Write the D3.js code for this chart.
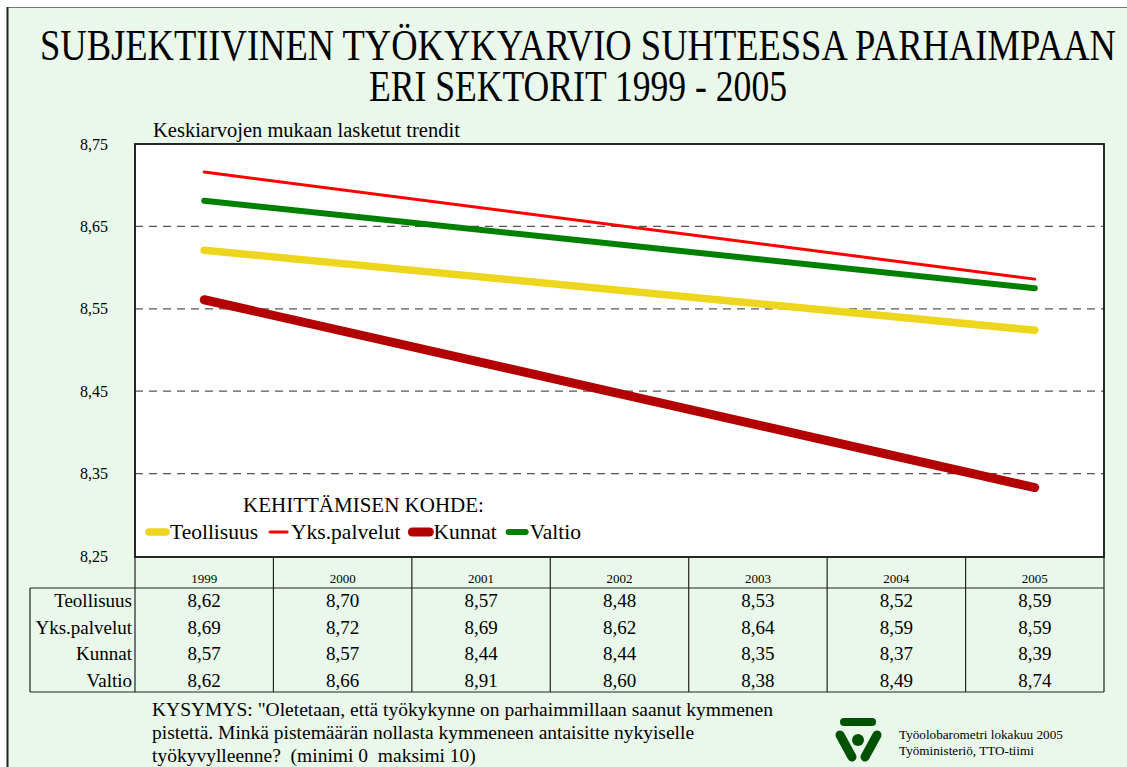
<!DOCTYPE html>
<html>
<head>
  <meta charset="utf-8">
  <script src="https://cdn.jsdelivr.net/npm/d3@7"></script>
  <style>
    body { margin: 0; background: white; }
    svg { display: block; font-family: "Liberation Serif", "Times New Roman", serif; }
  </style>
</head>
<body>
  <script>
    // data
    const years = ['1999', '2000', '2001', '2002', '2003', '2004', '2005']
    const sectors = ['Teollisuus', 'Yks.palvelut', 'Kunnat', 'Valtio']
    const teollisuus = [8.62, 8.70, 8.57, 8.48, 8.53, 8.52, 8.59]
    const yksPalvelut = [8.69, 8.72, 8.69, 8.62, 8.64, 8.59, 8.59]
    const kunnat = [8.57, 8.57, 8.44, 8.44, 8.35, 8.37, 8.39]
    const valtio = [8.62, 8.66, 8.91, 8.60, 8.38, 8.49, 8.74]
    // trend line end points (1999 and 2005)
    const trendStart = [8.621, 8.716, 8.561, 8.681]
    const trendEnd = [8.524, 8.586, 8.333, 8.575]
    const yTicks = [8.25, 8.35, 8.45, 8.55, 8.65, 8.75]

    const tableRows = [teollisuus, yksPalvelut, kunnat, valtio]
    const colors = ['#eed51e', '#ff0000', '#b30000', '#008000']
    const widths = [7.5, 3, 9, 6]

    const W = 1127, H = 767
    const svg = d3.select('body').append('svg')
      .attr('width', W).attr('height', H)

    // page background and edges
    svg.append('rect').attr('x', 7).attr('y', 7).attr('width', W - 7).attr('height', H - 7)
      .attr('fill', '#e9f8ea')
    svg.append('line').attr('x1', 7).attr('x2', W).attr('y1', 7.5).attr('y2', 7.5)
      .attr('stroke', '#777').attr('stroke-width', 1)
    svg.append('line').attr('x1', 7.5).attr('x2', 7.5).attr('y1', 7).attr('y2', H)
      .attr('stroke', '#222').attr('stroke-width', 2)

    // title
    const title = [['SUBJEKTIIVINEN TYÖKYKYARVIO SUHTEESSA PARHAIMPAAN', 60, 1076],
                   ['ERI SEKTORIT 1999 - 2005', 101, 418]]
    title.forEach(t => {
      svg.append('text').attr('x', 578).attr('y', t[1])
        .attr('text-anchor', 'middle').attr('font-size', 44)
        .attr('textLength', t[2]).attr('lengthAdjust', 'spacingAndGlyphs')
        .text(t[0])
    })

    const plotL = 135, plotR = 1104, plotT = 144, plotB = 557
    const x = d3.scaleBand().domain(years).range([plotL, plotR])
    const y = d3.scaleLinear().domain([8.25, 8.75]).range([plotB - 1, plotT])

    svg.append('text').attr('x', 153).attr('y', 137).attr('font-size', 20.5)
      .text('Keskiarvojen mukaan lasketut trendit')

    // plot area
    svg.append('rect').attr('x', plotL).attr('y', plotT)
      .attr('width', plotR - plotL).attr('height', plotB - plotT)
      .attr('fill', 'white')

    svg.append('g').selectAll('line')
      .data(yTicks.slice(1, -1))
      .join('line')
      .attr('x1', plotL).attr('x2', plotR)
      .attr('y1', d => y(d)).attr('y2', d => y(d))
      .attr('stroke', '#555').attr('stroke-width', 1.2)
      .attr('stroke-dasharray', '8,6')

    const yAxis = svg.append('g')
      .attr('transform', `translate(${plotL - 27},0)`)
      .call(d3.axisLeft(y).tickValues(yTicks).tickSize(0).tickPadding(0)
        .tickFormat(d => d3.format('.2f')(d).replace('.', ',')))
    yAxis.select('.domain').remove()
    yAxis.selectAll('text').attr('font-family', '"Liberation Serif", serif')
      .attr('font-size', 16).attr('fill', 'black')

    svg.append('rect').attr('x', plotL).attr('y', plotT)
      .attr('width', plotR - plotL).attr('height', plotB - plotT)
      .attr('fill', 'none').attr('stroke', '#111').attr('stroke-width', 1.8)

    // trend lines
    const line = d3.line().x(d => x(d[0]) + x.bandwidth() / 2).y(d => y(d[1]))
    sectors.forEach((s, i) => {
      svg.append('path')
        .attr('d', line([[years[0], trendStart[i]], [years[years.length - 1], trendEnd[i]]]))
        .attr('fill', 'none').attr('stroke', colors[i])
        .attr('stroke-width', widths[i]).attr('stroke-linecap', 'round')
    })

    // legend
    svg.append('text').attr('x', 243).attr('y', 512).attr('font-size', 21)
      .text('KEHITTÄMISEN KOHDE:')
    let lx = 145
    sectors.forEach((s, i) => {
      svg.append('line').attr('x1', lx + 4).attr('x2', lx + 21)
        .attr('y1', 532).attr('y2', 532)
        .attr('stroke', colors[i]).attr('stroke-width', widths[i])
        .attr('stroke-linecap', 'round')
      const t = svg.append('text').attr('x', lx + 25).attr('y', 539)
        .attr('font-size', 21.5).text(s)
      lx += 25 + t.node().getComputedTextLength() + 8
    })

    // data table
    const tableTop = 588, rowH = 26.5, tableLeft = 30
    const tableBottom = tableTop + rowH * 4 - 2
    const g = svg.append('g').attr('stroke', '#222').attr('stroke-width', 1.2)
    years.concat(['end']).forEach((yr, i) => {
      const xx = i < years.length ? x(yr) : plotR
      g.append('line').attr('x1', xx).attr('x2', xx)
        .attr('y1', plotB).attr('y2', tableBottom)
    })
    g.append('line').attr('x1', tableLeft).attr('x2', plotR)
      .attr('y1', tableTop).attr('y2', tableTop)
    g.append('line').attr('x1', tableLeft).attr('x2', plotR)
      .attr('y1', tableBottom).attr('y2', tableBottom)
    g.append('line').attr('x1', tableLeft).attr('x2', tableLeft)
      .attr('y1', tableTop).attr('y2', tableBottom)

    svg.append('g').selectAll('text').data(years).join('text')
      .attr('x', d => x(d) + x.bandwidth() / 2).attr('y', 583)
      .attr('text-anchor', 'middle').attr('font-size', 13)
      .text(d => d)

    sectors.forEach((s, i) => {
      const ry = tableTop + 19 + i * rowH
      svg.append('text').attr('x', plotL - 3).attr('y', ry)
        .attr('text-anchor', 'end').attr('font-size', 19).text(s)
      svg.append('g').selectAll('text').data(tableRows[i]).join('text')
        .attr('x', (d, j) => x(years[j]) + x.bandwidth() / 2).attr('y', ry)
        .attr('text-anchor', 'middle').attr('font-size', 19)
        .text(d => d3.format('.2f')(d).replace('.', ','))
    })

    // question
    const question = ['KYSYMYS: "Oletetaan, että työkykynne on parhaimmillaan saanut kymmenen',
      'pistettä. Minkä pistemäärän nollasta kymmeneen antaisitte nykyiselle',
      'työkyvylleenne?  (minimi 0  maksimi 10)']
    question.forEach((q, i) => {
      svg.append('text').attr('x', 152).attr('y', 716 + i * 23)
        .attr('font-size', 19.5).attr('xml:space', 'preserve').text(q)
    })

    // logo
    const logo = svg.append('g').attr('stroke', '#005200').attr('stroke-linecap', 'round')
    logo.append('line').attr('x1', 844).attr('x2', 872).attr('y1', 722).attr('y2', 722)
      .attr('stroke-width', 8)
    logo.append('line').attr('x1', 840).attr('x2', 852).attr('y1', 735).attr('y2', 757)
      .attr('stroke-width', 9)
    logo.append('line').attr('x1', 877).attr('x2', 865).attr('y1', 735).attr('y2', 757)
      .attr('stroke-width', 9)
    logo.append('circle').attr('cx', 858).attr('cy', 740).attr('r', 6)
      .attr('fill', '#005200').attr('stroke', 'none')

    svg.append('text').attr('x', 899).attr('y', 739).attr('font-size', 13.2)
      .text('Työolobarometri lokakuu 2005')
    svg.append('text').attr('x', 899).attr('y', 755).attr('font-size', 13.2)
      .text('Työministeriö, TTO-tiimi')
  </script>
</body>
</html>
